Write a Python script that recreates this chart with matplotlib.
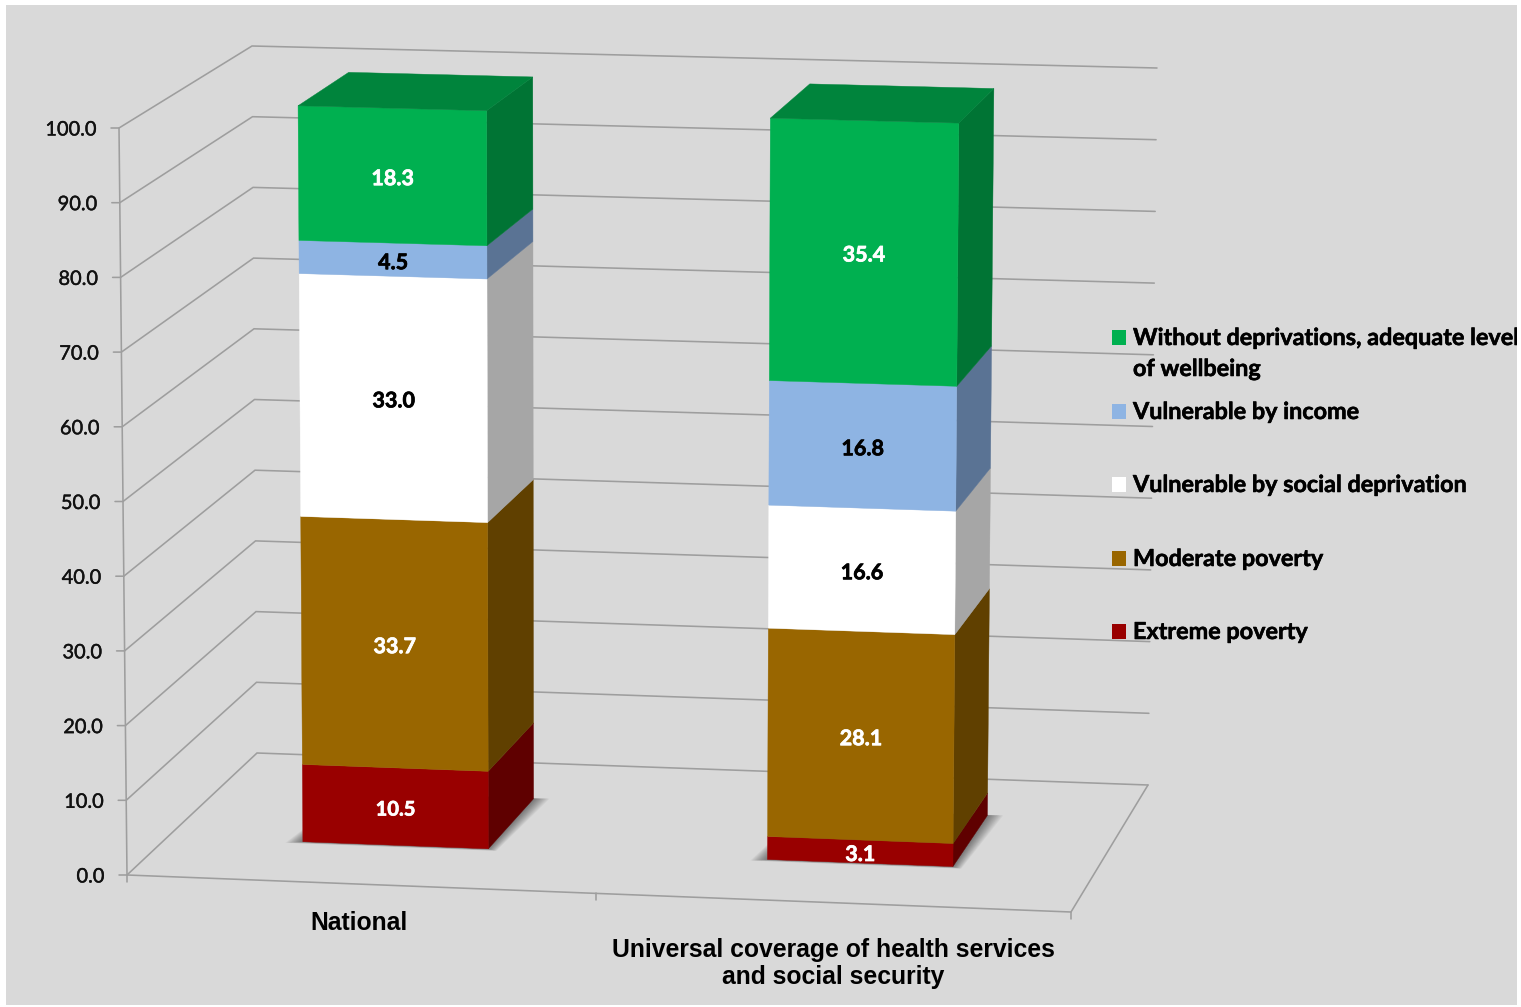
import matplotlib
matplotlib.use("Agg")
import matplotlib.pyplot as plt
import matplotlib.patheffects as pe
from matplotlib.patches import Rectangle

# ---------- data ----------
categories = ["National", "Universal coverage of health services\nand social security"]
series_names = ["Extreme poverty", "Moderate poverty", "Vulnerable by social deprivation",
                "Vulnerable by income", "Without deprivations, adequate level\nof wellbeing"]
extreme = [10.5, 3.1]
moderate = [33.7, 28.1]
vuln_social = [33.0, 16.6]
vuln_income = [4.5, 16.8]
without_dep = [18.3, 35.4]
value_ticks = [0, 10, 20, 30, 40, 50, 60, 70, 80, 90, 100]
tick_labels = ["0.0", "10.0", "20.0", "30.0", "40.0", "50.0", "60.0", "70.0", "80.0", "90.0", "100.0"]

# ---------- style ----------
front_cols = ["#990000", "#996600", "#FFFFFF", "#8EB4E3", "#00B050"]
side_cols = ["#5F0000", "#604000", "#A6A6A6", "#5A7394", "#007434"]
top_col = "#00843C"
label_cols = ["white", "white", "black", "black", "white"]
grid_col = "#9E9E9E"
bg = "#D9D9D9"

# ---------- 3-D box projection ----------
FLOOR = {(0, 0): (127, 875), (1, 0): (1071, 912), (0, 1): (257, 753), (1, 1): (1148, 785)}
CEIL = {(0, 0): (119, 128), (1, 0): (1079, 154), (0, 1): (252, 46), (1, 1): (1157, 68)}


def bil(c, u, d, i):
    return ((1 - u) * (1 - d) * c[(0, 0)][i] + u * (1 - d) * c[(1, 0)][i]
            + (1 - u) * d * c[(0, 1)][i] + u * d * c[(1, 1)][i])


def P(u, d, v):
    t = v / 100.0
    return ((1 - t) * bil(FLOOR, u, d, 0) + t * bil(CEIL, u, d, 0),
            (1 - t) * bil(FLOOR, u, d, 1) + t * bil(CEIL, u, d, 1))


fig = plt.figure(figsize=(15.21, 10.07), dpi=100, facecolor="white")
ax = fig.add_axes([0, 0, 1, 1])
ax.set_xlim(0, 1521)
ax.set_ylim(1007, 0)
ax.axis("off")
panel = Rectangle((6, 5), 1511, 1000, facecolor=bg, edgecolor="none", zorder=0)
ax.add_patch(panel)


def line(pts, lw=1.15, col=grid_col, z=1):
    ax.plot([p[0] for p in pts], [p[1] for p in pts], color=col, lw=lw, zorder=z,
            solid_capstyle="round", solid_joinstyle="miter")


def thick(col, w):
    return [pe.withStroke(linewidth=w, foreground=col)]


# walls + gridlines
for v, lab in zip(value_ticks, tick_labels):
    a, b, c = P(0, 0, v), P(0, 1, v), P(1, 1, v)
    line([(a[0] - 8, a[1]), a, b, c])
    ax.text(a[0] - 22.5, a[1] + 2, lab, ha="right", va="center", family="Lato",
            fontsize=14.4, color="#111111", zorder=2, path_effects=thick("#111111", 0.3))
line([P(0, 0, 0), P(0, 0, 100)])
line([P(1, 1, 0), P(1, 0, 0), P(0, 0, 0)])
for u in (0, 0.497, 1):
    p = P(u, 0, 0)
    line([p, (p[0], p[1] + 7)])

# bars
centers = [0.2455, 0.7465]
half_w = 0.1
d0, d1 = 0.315, 0.72
stack = [extreme, moderate, vuln_social, vuln_income, without_dep]
n_sh = 12
for i, c in enumerate(centers):
    ul, ur = c - half_w, c + half_w
    # soft floor shadow
    for k in range(n_sh):
        f = (n_sh - k) / n_sh
        e = 0.017 * f
        dn = 0.014 * f
        pts = [P(ul - e, d0 - dn, 0), P(ur + e * 0.6, d0 - dn, 0),
               P(ur + e, d1 + 0.005 * f, 0), P(ul, d1 + 0.005 * f, 0)]
        ax.fill([p[0] for p in pts], [p[1] for p in pts], color="black", alpha=0.042, lw=0, zorder=3)
    base = 0.0
    for s, vals in enumerate(stack):
        top = base + vals[i]
        front = [P(ul, d0, base), P(ur, d0, base), P(ur, d0, top), P(ul, d0, top)]
        side = [P(ur, d0, base), P(ur, d1, base), P(ur, d1, top), P(ur, d0, top)]
        ax.fill([p[0] for p in side], [p[1] for p in side], color=side_cols[s], lw=0.3, zorder=4)
        ax.fill([p[0] for p in front], [p[1] for p in front], color=front_cols[s], lw=0.3, zorder=4)
        if s == len(stack) - 1:
            cap = [P(ul, d0, top), P(ur, d0, top), P(ur, d1, top), P(ul, d1, top)]
            ax.fill([p[0] for p in cap], [p[1] for p in cap], color=top_col, lw=0.3, zorder=4)
        lx, ly = P(c, d0, (base + top) / 2)
        fs = 14.5 if 5 < vals[i] < 11 else 15.5
        ax.text(lx, ly + 3, f"{vals[i]:.1f}", ha="center", va="center", family="Lato",
                fontweight="bold", fontsize=fs, color=label_cols[s], zorder=5,
                path_effects=thick(label_cols[s], 0.5))
        base = top

# category labels
cat_pos = [(359, 923.5), (833, 963.5)]
for name, (x, y) in zip(categories, cat_pos):
    ax.text(x, y, name, ha="center", va="center", family="Liberation Sans", fontweight="bold",
            fontsize=17.8, color="black", linespacing=1.2, zorder=5)

# legend (top to bottom)
legend_y = [337, 411, 484, 558, 631]
for s, y in zip(range(4, -1, -1), legend_y):
    ax.add_patch(Rectangle((1112, y - 7.5), 14, 15, facecolor=front_cols[s], edgecolor="none", zorder=5))
    lines = series_names[s].split("\n")
    for j, t in enumerate(lines):
        tx = ax.text(1133, y + 1.5 + j * 31, t, ha="left", va="center", family="Lato", fontweight="bold",
                     fontsize=16.85, color="black", zorder=6, path_effects=thick("black", 0.4))
        tx.set_clip_path(panel)
        tx.set_clip_on(True)

fig.savefig("out.png", dpi=100, facecolor="white")
